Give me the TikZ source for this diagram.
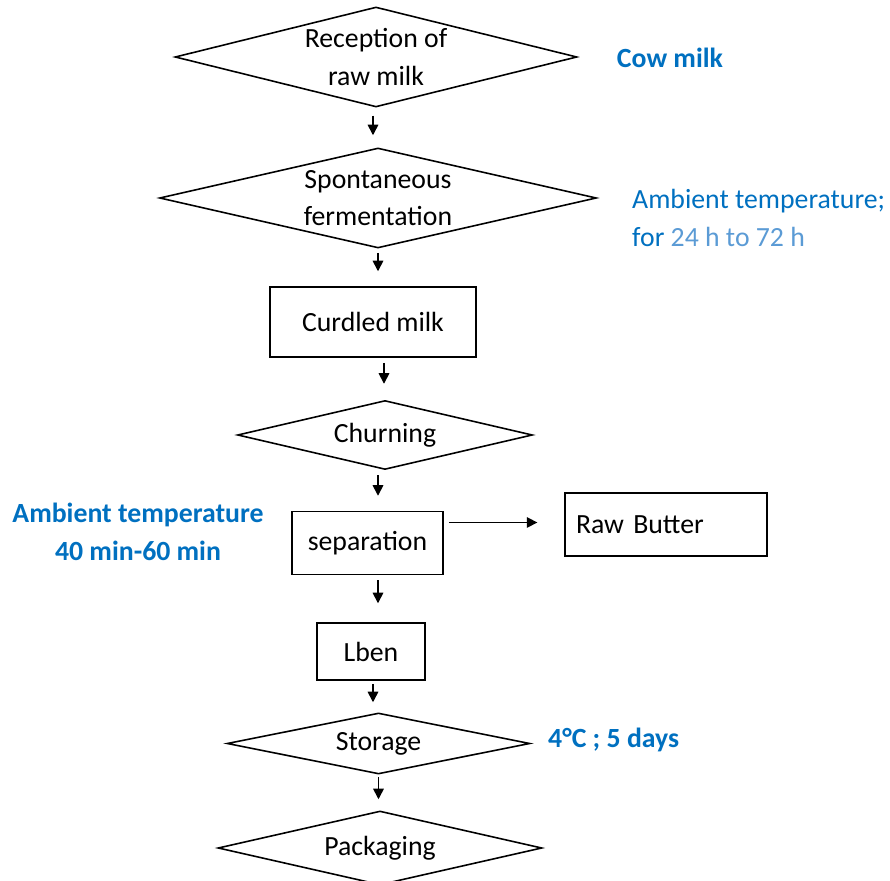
\documentclass[tikz,border=0pt]{standalone}
\usepackage{fontspec}
\setmainfont{Carlito}
\usetikzlibrary{shapes.geometric, arrows.meta}
\definecolor{wordblue}{RGB}{0,112,192}
\definecolor{lightblue}{RGB}{91,155,213}

\begin{document}
\begin{tikzpicture}[x=0.02cm, y=-0.02cm,
		every node/.style={font=\fontsize{15.8pt}{21.5pt}\selectfont},
		dia/.style={draw, line width=0.9pt, diamond, inner sep=0pt, align=center},
		box/.style={draw, line width=0.9pt, rectangle, inner sep=0pt, align=center},
		arr/.style={line width=0.9pt, -{Triangle[length=6pt, width=6pt]}},
		note/.style={text=wordblue, font=\fontsize{15.8pt}{21.5pt}\selectfont\bfseries, align=center}]
			\useasboundingbox (0,0) rectangle (890,881);
			\node[dia, aspect=4, minimum width=8.04cm, minimum height=2cm] (rec) at (376,57) {Reception of\\raw milk};
			\node[dia, aspect=4.37, minimum width=8.74cm, minimum height=2cm] (spont) at (378,198) {Spontaneous\\fermentation};
			\node[box, minimum width=4.12cm, minimum height=1.4cm] (curd) at (373,322) {Curdled milk};
			\node[dia, aspect=4.3, minimum width=5.9cm, minimum height=1.38cm] (churn) at (385,435) {Churning};
			\node[box, minimum width=3.02cm, minimum height=1.26cm] (sep) at (367.5,543) {separation};
			\node[box, text width=3.6cm, inner xsep=0.22cm, align=left, minimum height=1.26cm] (butter) at (666,524.5) {Raw Butter};
			\node[box, minimum width=2.16cm, minimum height=1.14cm] (lben) at (371,651.5) {Lben};
			\node[dia, aspect=5, minimum width=6.06cm, minimum height=1.22cm] (stor) at (378.5,743.5) {Storage};
			\node[dia, aspect=4.4, minimum width=6.48cm, minimum height=1.48cm] (pack) at (380,848) {Packaging};
			\node[note] (cow) at (670,58) {Cow milk};
			\node[anchor=west, align=left, text=wordblue] (amb) at (626,218) {Ambient temperature;\\for \textcolor{lightblue}{24 h to 72 h}};
			\node[note] (ambsep) at (138,532) {Ambient temperature\\40 min-60 min};
			\node[note, anchor=west] (cold) at (542,740) {4°C ; 5 days};
			\draw[arr, shorten <=8pt*0.567, shorten >=12pt*0.567] ([xshift=-0.06cm]rec.south) -- ([xshift=-0.06cm]rec.south |- spont.north);
			\draw[arr, shorten <=4pt*0.567, shorten >=15pt*0.567] (spont.south) -- (spont.south |- curd.north);
			\draw[arr, shorten <=5pt*0.567, shorten >=16pt*0.567] ([xshift=0.22cm]curd.south) -- ([xshift=0.22cm]curd.south |- churn.north);
			\draw[arr, shorten <=5pt*0.567, shorten >=15pt*0.567] ([xshift=-0.14cm]churn.south) -- ([xshift=-0.14cm]churn.south |- sep.north);
			\draw[arr, shorten <=5pt*0.567, shorten >=19pt*0.567] ([xshift=0.21cm]sep.south) -- ([xshift=0.21cm]sep.south |- lben.north);
			\draw[arr, shorten <=3pt*0.567, shorten >=10pt*0.567] ([xshift=0.04cm]lben.south) -- ([xshift=0.04cm]lben.south |- stor.north);
			\draw[arr, shorten <=2pt*0.567, shorten >=11pt*0.567] (stor.south) -- (stor.south |- pack.north);
			\draw[arr, shorten <=5pt*0.567, shorten >=27pt*0.567] ([yshift=0.04cm]sep.east |- butter.west) -- ([yshift=0.04cm]butter.west);
\end{tikzpicture}
\end{document}
